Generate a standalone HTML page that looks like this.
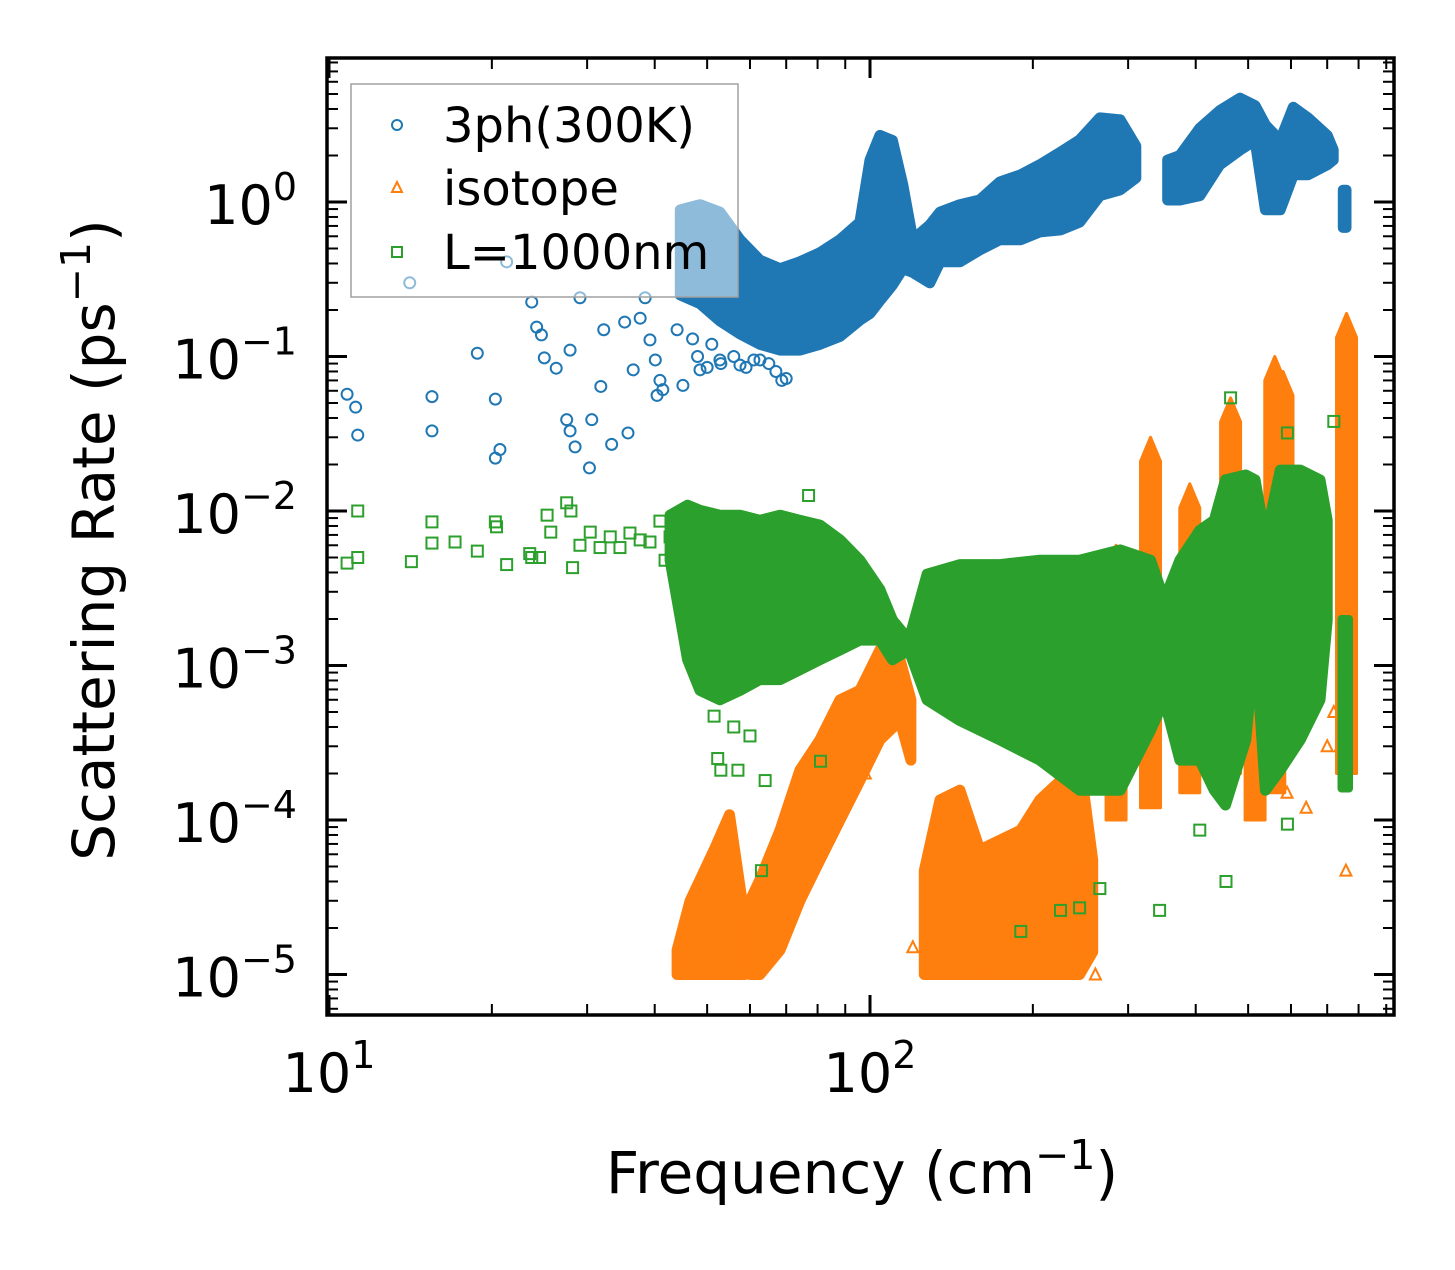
<!DOCTYPE html>
<html><head><meta charset="utf-8"><style>
html,body{margin:0;padding:0;background:#fff;}
svg text{font-family:"DejaVu Sans","Liberation Sans",sans-serif;}
</style></head><body>
<svg id="chart" width="1455" height="1265" viewBox="0 0 1455 1265" xmlns="http://www.w3.org/2000/svg">
<rect x="0" y="0" width="1455" height="1265" fill="#fff"/>
<g id="data-layer"></g>
<g id="axes-layer"></g>
<g id="legend">
<rect x="351" y="84" width="387" height="213" fill="#fff" fill-opacity="0.5" stroke="#a0a0a0" stroke-width="1.5"/>
<circle cx="397" cy="125" r="5" fill="none" stroke="#1f77b4" stroke-width="2"/>
<text x="443" y="142" font-size="48">3ph(300K)</text>
<polygon points="397,182 392,192 402,192" fill="none" stroke="#ff7f0e" stroke-width="2"/>
<text x="443" y="205" font-size="48">isotope</text>
<rect x="392" y="247" width="10" height="10" fill="none" stroke="#2ca02c" stroke-width="2"/>
<text x="443" y="269" font-size="48">L=1000nm</text>
</g>
</svg>
<script>
// ---- data ----
const blueCloudFreq = [44.6,48.5,52.8,57.5,62.6,68.2,74.2,80.8,88,95.8,100,104.3,110,115,120,129,134.7,146.6,159.6,173.8,190,206,225,244,266,290,310];
const blueCloudHi = [0.89,0.96,0.86,0.57,0.42,0.37,0.41,0.47,0.57,0.74,1.87,2.7,2.5,1.29,0.57,0.71,0.86,0.96,1.03,1.35,1.5,1.74,2.1,2.52,3.5,3.4,2.3];
const blueCloudLo = [0.25,0.22,0.17,0.14,0.12,0.11,0.11,0.12,0.135,0.172,0.19,0.23,0.29,0.37,0.35,0.30,0.41,0.41,0.49,0.57,0.57,0.64,0.66,0.74,1.1,1.2,1.43];
const blueCloud2Freq = [355,374,407,443,483,515,538,573,606,645,700,718];
const blueCloud2Hi = [1.87,2.0,3.0,3.9,4.7,4.2,3.15,2.5,4.1,3.5,2.7,2.17];
const blueCloud2Lo = [1.03,1.03,1.1,1.74,2.17,2.5,0.89,0.89,1.5,1.5,1.74,1.87];
const blueBlobFreq = [748,760];
const blueBlobHi = [1.2,1.2];
const blueBlobLo = [0.68,0.68];
const bluePtsFreq = [10.8,11.2,11.3,15.5,15.5,18.8,20.3,20.3,20.7,21.3,14.1,23.7,24.2,24.7,25,26.3,27.9,27.5,27.9,28.5,30.3,30.6,29.1,31.8,32.2,33.3,35.2,35.7,36.5,37.6,38.4,39.2,40.1,40.4,40.9,41.4,44,45.1,48.5,52.8,57.5,62.6,68.7,48,50,53,56,59,61,65,67,70,47,51];
const bluePtsRate = [0.057,0.047,0.031,0.055,0.033,0.105,0.053,0.022,0.025,0.41,0.30,0.225,0.155,0.138,0.098,0.084,0.11,0.039,0.033,0.026,0.019,0.039,0.24,0.064,0.149,0.027,0.167,0.032,0.082,0.177,0.24,0.128,0.095,0.056,0.070,0.061,0.149,0.065,0.082,0.095,0.088,0.095,0.070,0.1,0.085,0.09,0.1,0.085,0.095,0.09,0.08,0.072,0.13,0.12];

const isoBandAFreq = [44,46.5,48.5,51.5,55,58.7];
const isoBandAHi = [1.44e-5,3.0e-5,4.1e-5,6.4e-5,1.08e-4,2.25e-5];
const isoBandALo = [1e-5,1e-5,1e-5,1e-5,1e-5,1e-5];
const isoBandBFreq = [60,62.6,68.2,74.2,80.8,88,95.8,104.3,113.6,119];
const isoBandBHi = [3e-5,4.1e-5,8.6e-5,2.1e-4,3.3e-4,6e-4,6.9e-4,1.26e-3,1.09e-3,6e-4];
const isoBandBLo = [1e-5,1e-5,1.44e-5,3e-5,5.5e-5,1e-4,1.8e-4,3.3e-4,4.4e-4,2.44e-4];
const isoBandCFreq = [126,134.7,146.6,159.6,173.8,190,206,225,244,258];
const isoBandCHi = [4.7e-5,1.35e-4,1.56e-4,6.4e-5,7.4e-5,8.6e-5,1.35e-4,1.8e-4,2.44e-4,5.5e-5];
const isoBandCLo = [1e-5,1e-5,1e-5,1e-5,1e-5,1e-5,1e-5,1e-5,1e-5,1.4e-5];
const isoSpikeFreq = [285,330,390,464,515,560,580,760];
const isoSpikeTop = [0.006,0.030,0.015,0.054,0.0127,0.1,0.08,0.19];
const isoSpikeBottom = [1e-4,1.2e-4,1.5e-4,2e-4,1e-4,1.5e-4,3e-4,2e-4];
const isoPtsFreq = [261,244,758,590,640,700,720,740,160,120,98];
const isoPtsRate = [1e-5,2e-5,4.7e-5,1.5e-4,1.2e-4,3e-4,5e-4,3e-4,1.2e-5,1.5e-5,2e-4];

const bndCloudFreq = [42.7,46,48.5,52.8,57.5,62.6,68.2,74.2,80.8,88,95.8,104.3,110,118,127.5,146.6,173.8,206,244,290,330,350,374,407,433,454,495,515,538,573,624,679,700];
const bndCloudHi = [0.0094,0.0109,0.0101,0.0094,0.0094,0.0087,0.0094,0.0087,0.0081,0.0065,0.0048,0.0031,0.00197,0.00146,0.0039,0.0045,0.0045,0.0048,0.0048,0.0056,0.0048,0.00265,0.0048,0.0075,0.0087,0.0159,0.0171,0.0159,0.0065,0.0184,0.0184,0.0159,0.0087];
const bndCloudLo = [0.0048,0.00109,0.00069,0.0006,0.00069,0.00081,0.00081,0.00094,0.00109,0.00126,0.00146,0.00146,0.00109,0.00126,0.0006,0.00044,0.00033,0.000244,0.000156,0.000156,0.00038,0.0006,0.000244,0.000244,0.000156,0.000125,0.00033,0.00146,0.000156,0.00021,0.00033,0.0006,0.00197];
const bndBlobFreq = [744,768];
const bndBlobHi = [0.002,0.002];
const bndBlobLo = [0.00016,0.00016];
const bndPtsFreq = [10.8,11.3,11.3,14.2,15.5,15.5,17.1,18.8,20.3,20.4,21.3,23.5,23.7,24.5,25.3,25.7,27.5,28,28.2,29.1,30.4,31.7,33.1,34.5,36,37.6,39.2,40.9,41.8,42.7,455,343,266,244,225,190,591,464,591,720,57,64,81,63,77,407,51.5,52.3,53,60,56];
const bndPtsRate = [0.0046,0.0100,0.0050,0.0047,0.0085,0.0062,0.0063,0.0055,0.0085,0.0079,0.0045,0.0053,0.0050,0.0050,0.0094,0.0073,0.0113,0.0100,0.0043,0.0060,0.0073,0.0058,0.0068,0.0058,0.0072,0.0065,0.0063,0.0086,0.0048,0.0068,4e-5,2.6e-5,3.6e-5,2.7e-5,2.6e-5,1.9e-5,9.4e-5,0.054,0.032,0.038,2.1e-4,1.8e-4,2.4e-4,4.7e-5,0.0126,8.6e-5,4.7e-4,2.5e-4,2.1e-4,3.5e-4,4e-4];

const xMajorTicks = [10,100];
const xTickLabels = ["1","2"];
const yMajorTicks = [1e-5,1e-4,1e-3,1e-2,1e-1,1];
const yTickLabels = ["\u22125","\u22124","\u22123","\u22122","\u22121","0"];

// ---- axes ----
const X0 = 329, DEC_X = 541, Y0 = 202, DEC_Y = 154.5;
const L = 327, R = 1394, T = 58, B = 1015;
const xScale = f => X0 + (Math.log10(f) - 1) * DEC_X;
const yScale = v => Y0 - Math.log10(v) * DEC_Y;
const NS = 'http://www.w3.org/2000/svg';
const dataLayer = document.getElementById('data-layer');
const axesLayer = document.getElementById('axes-layer');
function mk(tag, attrs, parent) {
  const el = document.createElementNS(NS, tag);
  for (const k in attrs) el.setAttribute(k, attrs[k]);
  parent.appendChild(el);
  return el;
}
const clip = mk('clipPath', {id: 'plotclip'}, document.getElementById('chart'));
mk('rect', {x: L, y: T, width: R - L, height: B - T}, clip);
dataLayer.setAttribute('clip-path', 'url(#plotclip)');

function band(freq, hi, lo, color, sw, name) {
  const pts = [];
  for (let i = 0; i < freq.length; i++) pts.push(xScale(freq[i]).toFixed(1) + ',' + yScale(hi[i]).toFixed(1));
  for (let i = freq.length - 1; i >= 0; i--) pts.push(xScale(freq[i]).toFixed(1) + ',' + yScale(lo[i]).toFixed(1));
  const p = mk('polygon', {points: pts.join(' '), fill: color, stroke: color, 'stroke-width': sw, 'stroke-linejoin': 'round'}, dataLayer);
  
  
}
function circles(freq, rate, color, name) {
  for (let i = 0; i < freq.length; i++) {
    const c = mk('circle', {cx: xScale(freq[i]), cy: yScale(rate[i]), r: 5.5, fill: 'none', stroke: color, 'stroke-width': 2}, dataLayer);
    
    
  }
}
function triangles(freq, rate, color, name) {
  for (let i = 0; i < freq.length; i++) {
    const x = xScale(freq[i]), y = yScale(rate[i]);
    const t = mk('polygon', {points: `${x},${y-6} ${x-5.5},${y+5} ${x+5.5},${y+5}`, fill: 'none', stroke: color, 'stroke-width': 2}, dataLayer);
    
    
  }
}
function squares(freq, rate, color, name) {
  for (let i = 0; i < freq.length; i++) {
    const x = xScale(freq[i]), y = yScale(rate[i]);
    const s = mk('rect', {x: x - 5.5, y: y - 5.5, width: 11, height: 11, fill: 'none', stroke: color, 'stroke-width': 2}, dataLayer);
    
    
  }
}
function spikes(freq, top, bottom, color, name) {
  const hw = 10;
  for (let i = 0; i < freq.length; i++) {
    const x = xScale(freq[i]), yt = yScale(top[i]), yb = yScale(bottom[i]);
    const s = mk('polygon', {points: `${x-hw},${yb} ${x-hw},${yt+24} ${x},${yt} ${x+hw},${yt+24} ${x+hw},${yb}`, fill: color, stroke: color, 'stroke-width': 3, 'stroke-linejoin': 'round'}, dataLayer);
    
    
  }
}
const BLUE = '#1f77b4', ORANGE = '#ff7f0e', GREEN = '#2ca02c';
band(blueCloudFreq, blueCloudHi, blueCloudLo, BLUE, 11, 'three-phonon-cloud');
band(blueCloud2Freq, blueCloud2Hi, blueCloud2Lo, BLUE, 11, 'three-phonon-cloud-high');
band(blueBlobFreq, blueBlobHi, blueBlobLo, BLUE, 10, 'three-phonon-top-branch');
circles(bluePtsFreq, bluePtsRate, BLUE, 'three-phonon-point');
band(isoBandAFreq, isoBandAHi, isoBandALo, ORANGE, 11, 'isotope-cloud-low');
band(isoBandBFreq, isoBandBHi, isoBandBLo, ORANGE, 11, 'isotope-cloud-diagonal');
band(isoBandCFreq, isoBandCHi, isoBandCLo, ORANGE, 11, 'isotope-cloud-mid');
spikes(isoSpikeFreq, isoSpikeTop, isoSpikeBottom, ORANGE, 'isotope-spike');
triangles(isoPtsFreq, isoPtsRate, ORANGE, 'isotope-point');
band(bndCloudFreq, bndCloudHi, bndCloudLo, GREEN, 11, 'boundary-cloud');
band(bndBlobFreq, bndBlobHi, bndBlobLo, GREEN, 8, 'boundary-top-branch');
squares(bndPtsFreq, bndPtsRate, GREEN, 'boundary-point');

// ticks
function tick(x1, y1, x2, y2, w, name) {
  const l = mk('line', {x1, y1, x2, y2, stroke: '#000', 'stroke-width': w}, axesLayer);
  
  
}
for (let d = 1; d <= 3; d++) {
  for (let m = 1; m <= 9; m++) {
    const f = m * Math.pow(10, d);
    const x = xScale(f);
    if (x < L - 0.5 || x > R + 0.5) continue;
    const len = m === 1 ? 20 : 11, w = m === 1 ? 3 : 2;
    tick(x, B, x, B - len, w, 'x-tick');
    tick(x, T, x, T + len, w, 'x-tick-top');
  }
}
for (let d = -6; d <= 0; d++) {
  for (let m = 1; m <= 9; m++) {
    const v = m * Math.pow(10, d);
    const y = yScale(v);
    if (y < T - 0.5 || y > B + 0.5) continue;
    const len = m === 1 ? 20 : 11, w = m === 1 ? 3 : 2;
    tick(L, y, L + len, y, w, 'y-tick');
    tick(R, y, R - len, y, w, 'y-tick-right');
  }
}
const frame = mk('rect', {x: L, y: T, width: R - L, height: B - T, fill: 'none', stroke: '#000', 'stroke-width': 3.5}, axesLayer);



for (let i = 0; i < xMajorTicks.length; i++) {
  const t = mk('text', {x: xScale(xMajorTicks[i]), y: 1092, 'font-size': 54, 'text-anchor': 'middle'}, axesLayer);
  
  
  t.innerHTML = '10<tspan font-size="38" dy="-24">' + xTickLabels[i] + '</tspan>';
}
for (let i = 0; i < yMajorTicks.length; i++) {
  const t = mk('text', {x: 297, y: yScale(yMajorTicks[i]) + 22, 'font-size': 54, 'text-anchor': 'end'}, axesLayer);
  
  
  t.innerHTML = '10<tspan font-size="38" dy="-24">' + yTickLabels[i] + '</tspan>';
}
const xt = mk('text', {x: 862, y: 1193, 'font-size': 58, 'text-anchor': 'middle'}, axesLayer);


xt.innerHTML = 'Frequency (cm<tspan font-size="41" dy="-24">\u22121</tspan><tspan dy="24">)</tspan>';
const yt = mk('text', {x: 0, y: 0, 'font-size': 58, 'text-anchor': 'middle', transform: 'translate(114,540) rotate(-90)'}, axesLayer);


yt.innerHTML = 'Scattering Rate (ps<tspan font-size="41" dy="-24">\u22121</tspan><tspan dy="24">)</tspan>';
</script>
</body></html>
